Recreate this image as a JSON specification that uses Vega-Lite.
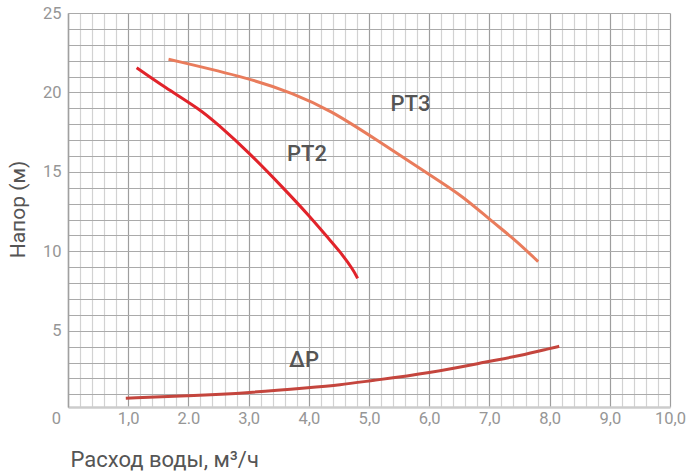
{
  "$schema": "https://vega.github.io/schema/vega-lite/v6.json",
  "autosize": "none",
  "width": 602,
  "height": 394,
  "padding": {"left": 68, "top": 13, "right": 24, "bottom": 65},
  "background": "#ffffff",
  "config": {"view": {"stroke": null}, "font": "Roboto"},
  "datasets": {
    "curves": [
      {"series": "PT2", "q": 1.14, "h": 21.56},
      {"series": "PT2", "q": 1.61, "h": 20.32},
      {"series": "PT2", "q": 2.19, "h": 18.94},
      {"series": "PT2", "q": 2.47, "h": 18.06},
      {"series": "PT2", "q": 3.02, "h": 16.17},
      {"series": "PT2", "q": 3.58, "h": 13.97},
      {"series": "PT2", "q": 4.02, "h": 12.18},
      {"series": "PT2", "q": 4.30, "h": 10.92},
      {"series": "PT2", "q": 4.52, "h": 9.98},
      {"series": "PT2", "q": 4.74, "h": 8.83},
      {"series": "PT2", "q": 4.81, "h": 8.30},
      {"series": "PT3", "q": 1.67, "h": 22.09},
      {"series": "PT3", "q": 3.02, "h": 20.89},
      {"series": "PT3", "q": 3.74, "h": 19.95},
      {"series": "PT3", "q": 4.35, "h": 18.90},
      {"series": "PT3", "q": 5.13, "h": 17.01},
      {"series": "PT3", "q": 6.01, "h": 14.80},
      {"series": "PT3", "q": 6.57, "h": 13.44},
      {"series": "PT3", "q": 7.01, "h": 11.97},
      {"series": "PT3", "q": 7.40, "h": 10.82},
      {"series": "PT3", "q": 7.81, "h": 9.35},
      {"series": "ΔP", "q": 0.96, "h": 0.75},
      {"series": "ΔP", "q": 2.00, "h": 0.90},
      {"series": "ΔP", "q": 3.02, "h": 1.10},
      {"series": "ΔP", "q": 4.02, "h": 1.42},
      {"series": "ΔP", "q": 4.52, "h": 1.59},
      {"series": "ΔP", "q": 5.00, "h": 1.84},
      {"series": "ΔP", "q": 6.00, "h": 2.33},
      {"series": "ΔP", "q": 7.00, "h": 3.08},
      {"series": "ΔP", "q": 7.50, "h": 3.42},
      {"series": "ΔP", "q": 8.00, "h": 3.88},
      {"series": "ΔP", "q": 8.16, "h": 4.02}
    ],
    "labels": [
      {"label": "PT3", "q": 5.69, "h": 18.85},
      {"label": "PT2", "q": 3.97, "h": 15.69},
      {"label": "ΔP", "q": 3.92, "h": 2.74}
    ]
  },
  "layer": [
    {
      "data": {"name": "curves"},
      "mark": {"type": "line", "strokeWidth": 3, "interpolate": "basis", "strokeCap": "butt"},
      "encoding": {
        "x": {
          "field": "q",
          "type": "quantitative",
          "scale": {"domain": [0, 10], "nice": false, "zero": false},
          "axis": {
            "values": [0, 0.2, 0.4, 0.6, 0.8, 1, 1.2, 1.4, 1.6, 1.8, 2, 2.2, 2.4, 2.6, 2.8, 3, 3.2, 3.4, 3.6, 3.8, 4, 4.2, 4.4, 4.6, 4.8, 5, 5.2, 5.4, 5.6, 5.8, 6, 6.2, 6.4, 6.6, 6.8, 7, 7.2, 7.4, 7.6, 7.8, 8, 8.2, 8.4, 8.6, 8.8, 9, 9.2, 9.4, 9.6, 9.8, 10],
            "tickCount": 100,
            "labelExpr": "datum.value === 0 ? '0' : (datum.value === 2 ? '2.0' : (datum.value % 1 === 0 ? replace(format(datum.value, '.1f'), '.', ',') : ''))",
            "labelOffset": {"condition": {"test": "datum.value === 0", "value": -12}, "value": 0},
            "labelOverlap": false,
            "labelFlush": false,
            "labelColor": "#969696",
            "labelFontSize": 16.5,
            "labelPadding": 3,
            "ticks": false,
            "domainColor": "#cccccc",
            "domainWidth": 2.5,
            "grid": true,
            "gridColor": {"condition": {"test": "datum.value % 1 === 0", "value": "#9e9e9e"}, "value": "#d2d2d2"},
            "gridWidth": 1.2,
            "title": "Расход воды, м³/ч",
            "titleFontSize": 22,
            "titleFontWeight": "normal",
            "titleColor": "#555555",
            "titleAnchor": "start",
            "titleAlign": "left",
            "titleBaseline": "alphabetic",
            "titleX": 2,
            "titleY": 59
          }
        },
        "y": {
          "field": "h",
          "type": "quantitative",
          "scale": {"domain": [0.2, 25], "nice": false, "zero": false},
          "axis": {
            "values": [1, 2, 3, 4, 5, 6, 7, 8, 9, 10, 11, 12, 13, 14, 15, 16, 17, 18, 19, 20, 21, 22, 23, 24, 25],
            "tickCount": 50,
            "labelExpr": "datum.value % 5 === 0 ? datum.value : ''",
            "labelOverlap": false,
            "labelFlush": false,
            "labelColor": "#969696",
            "labelFontSize": 16.5,
            "labelPadding": 7,
            "ticks": false,
            "domainColor": "#a0a0a0",
            "domainWidth": 1.5,
            "grid": true,
            "gridColor": "#aaaaaa",
            "gridWidth": 1.2,
            "title": "Напор (м)",
            "titleFontSize": 21,
            "titleFontWeight": "normal",
            "titleColor": "#555555",
            "titleAlign": "center",
            "titleBaseline": "alphabetic",
            "titleAngle": -90,
            "titleX": -44,
            "titleY": 196
          }
        },
        "color": {
          "field": "series",
          "type": "nominal",
          "scale": {"domain": ["PT2", "PT3", "ΔP"], "range": ["#e1232a", "#e97c5c", "#c4453d"]},
          "legend": null
        },
        "detail": {"field": "series"}
      }
    },
    {
      "data": {"name": "labels"},
      "mark": {"type": "text", "fontSize": 22, "fontWeight": 500, "color": "#555555", "align": "center", "baseline": "alphabetic"},
      "encoding": {
        "x": {"field": "q", "type": "quantitative"},
        "y": {"field": "h", "type": "quantitative"},
        "text": {"field": "label"}
      }
    }
  ]
}
